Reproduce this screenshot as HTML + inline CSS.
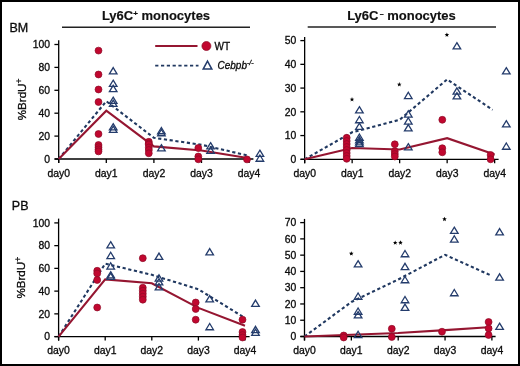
<!DOCTYPE html>
<html><head><meta charset="utf-8"><title>BrdU monocytes</title>
<style>
html,body{margin:0;padding:0;background:#fff;}
body{width:520px;height:366px;overflow:hidden;font-family:"Liberation Sans", sans-serif;}
#fig{position:relative;width:520px;height:366px;box-sizing:border-box;}
#fig svg{position:absolute;left:0;top:0;display:block;filter:blur(0.35px);}
#frame{position:absolute;left:0;top:0;width:520px;height:366px;box-sizing:border-box;border:2px solid #000;}
</style></head>
<body><div id="fig">
<svg width="520" height="366" viewBox="0 0 520 366" font-family='"Liberation Sans", sans-serif'>
<rect x="0" y="0" width="520" height="366" fill="#fff"/>
<text x="156" y="19.8" font-size="13" text-anchor="middle" font-weight="bold" font-style="normal" fill="#111" stroke="#000" stroke-width="0.15" >Ly6C<tspan font-size="8" dy="-4">+</tspan><tspan dy="4"> monocytes</tspan></text>
<line x1="62" y1="27.2" x2="250" y2="27.2" stroke="#222" stroke-width="1.5"/>
<text x="401.5" y="19.8" font-size="13" text-anchor="middle" font-weight="bold" font-style="normal" fill="#111" stroke="#000" stroke-width="0.15" >Ly6C<tspan font-size="7" dx="1.2" dy="-4.2">&#8211;</tspan><tspan dy="4.2"> monocytes</tspan></text>
<line x1="307.7" y1="27" x2="496" y2="27" stroke="#222" stroke-width="1.5"/>
<text x="9.4" y="31.6" font-size="12.5" text-anchor="start" font-weight="normal" font-style="normal" fill="#111" stroke="#000" stroke-width="0.3" >BM</text>
<text x="11.8" y="210.2" font-size="12.5" text-anchor="start" font-weight="normal" font-style="normal" fill="#111" stroke="#000" stroke-width="0.3" >PB</text>
<text x="26.3" y="99.7" font-size="11.6" text-anchor="middle" font-weight="normal" font-style="normal" fill="#111" stroke="#000" stroke-width="0.3" transform="rotate(-90 26 99.7)">%BrdU<tspan font-size="8.5" dy="-4.2">+</tspan></text>
<text x="25.3" y="278" font-size="11.6" text-anchor="middle" font-weight="normal" font-style="normal" fill="#111" stroke="#000" stroke-width="0.3" transform="rotate(-90 25 278)">%BrdU<tspan font-size="8.5" dy="-4.2">+</tspan></text>
<line x1="58.7" y1="40.2" x2="58.7" y2="163" stroke="#000" stroke-width="1.3"/>
<line x1="54.7" y1="159" x2="253.4" y2="159" stroke="#000" stroke-width="1.3"/>
<line x1="54.4" y1="159" x2="58.7" y2="159" stroke="#000" stroke-width="1.3"/>
<text x="50" y="162.8" font-size="10.4" text-anchor="end" font-weight="normal" font-style="normal" fill="#111" stroke="#000" stroke-width="0.3" >0</text>
<line x1="54.4" y1="136.1" x2="58.7" y2="136.1" stroke="#000" stroke-width="1.3"/>
<text x="50" y="139.9" font-size="10.4" text-anchor="end" font-weight="normal" font-style="normal" fill="#111" stroke="#000" stroke-width="0.3" >20</text>
<line x1="54.4" y1="113.2" x2="58.7" y2="113.2" stroke="#000" stroke-width="1.3"/>
<text x="50" y="117" font-size="10.4" text-anchor="end" font-weight="normal" font-style="normal" fill="#111" stroke="#000" stroke-width="0.3" >40</text>
<line x1="54.4" y1="90.3" x2="58.7" y2="90.3" stroke="#000" stroke-width="1.3"/>
<text x="50" y="94.1" font-size="10.4" text-anchor="end" font-weight="normal" font-style="normal" fill="#111" stroke="#000" stroke-width="0.3" >60</text>
<line x1="54.4" y1="67.4" x2="58.7" y2="67.4" stroke="#000" stroke-width="1.3"/>
<text x="50" y="71.2" font-size="10.4" text-anchor="end" font-weight="normal" font-style="normal" fill="#111" stroke="#000" stroke-width="0.3" >80</text>
<line x1="54.4" y1="44.5" x2="58.7" y2="44.5" stroke="#000" stroke-width="1.3"/>
<text x="50" y="48.3" font-size="10.4" text-anchor="end" font-weight="normal" font-style="normal" fill="#111" stroke="#000" stroke-width="0.3" >100</text>
<line x1="58.7" y1="159" x2="58.7" y2="163" stroke="#000" stroke-width="1.3"/>
<text x="58.7" y="176.8" font-size="10.4" text-anchor="middle" font-weight="normal" font-style="normal" fill="#111" stroke="#000" stroke-width="0.3" >day0</text>
<line x1="106.3" y1="159" x2="106.3" y2="163" stroke="#000" stroke-width="1.3"/>
<text x="106.3" y="176.8" font-size="10.4" text-anchor="middle" font-weight="normal" font-style="normal" fill="#111" stroke="#000" stroke-width="0.3" >day1</text>
<line x1="153.9" y1="159" x2="153.9" y2="163" stroke="#000" stroke-width="1.3"/>
<text x="153.9" y="176.8" font-size="10.4" text-anchor="middle" font-weight="normal" font-style="normal" fill="#111" stroke="#000" stroke-width="0.3" >day2</text>
<line x1="201.5" y1="159" x2="201.5" y2="163" stroke="#000" stroke-width="1.3"/>
<text x="201.5" y="176.8" font-size="10.4" text-anchor="middle" font-weight="normal" font-style="normal" fill="#111" stroke="#000" stroke-width="0.3" >day3</text>
<line x1="249.1" y1="159" x2="249.1" y2="163" stroke="#000" stroke-width="1.3"/>
<text x="249.1" y="176.8" font-size="10.4" text-anchor="middle" font-weight="normal" font-style="normal" fill="#111" stroke="#000" stroke-width="0.3" >day4</text>
<polyline points="58.7,159 106.3,101.2 153.9,137.8 201.5,144.8 249.1,155.8" fill="none" stroke="#203860" stroke-width="2.1" stroke-dasharray="3.2 2.6" stroke-linejoin="miter"/>
<polyline points="58.7,159 106.3,110.7 153.9,146.4 201.5,150.5 249.1,158.3" fill="none" stroke="#951631" stroke-width="2.1" stroke-linejoin="miter"/>
<circle cx="98.5" cy="50.6" r="3.45" fill="#c1072f" stroke="#8c0b26" stroke-width="0.7"/>
<circle cx="98.5" cy="74.5" r="3.45" fill="#c1072f" stroke="#8c0b26" stroke-width="0.7"/>
<circle cx="98.5" cy="89.5" r="3.45" fill="#c1072f" stroke="#8c0b26" stroke-width="0.7"/>
<circle cx="98.5" cy="102" r="3.45" fill="#c1072f" stroke="#8c0b26" stroke-width="0.7"/>
<circle cx="98.5" cy="134" r="3.45" fill="#c1072f" stroke="#8c0b26" stroke-width="0.7"/>
<circle cx="98.5" cy="145" r="3.45" fill="#c1072f" stroke="#8c0b26" stroke-width="0.7"/>
<circle cx="98.5" cy="147.2" r="3.45" fill="#c1072f" stroke="#8c0b26" stroke-width="0.7"/>
<circle cx="98.5" cy="149.4" r="3.45" fill="#c1072f" stroke="#8c0b26" stroke-width="0.7"/>
<circle cx="98.5" cy="151.4" r="3.45" fill="#c1072f" stroke="#8c0b26" stroke-width="0.7"/>
<circle cx="148.8" cy="141.8" r="3.45" fill="#c1072f" stroke="#8c0b26" stroke-width="0.7"/>
<circle cx="148.8" cy="143.5" r="3.45" fill="#c1072f" stroke="#8c0b26" stroke-width="0.7"/>
<circle cx="148.8" cy="144.5" r="3.45" fill="#c1072f" stroke="#8c0b26" stroke-width="0.7"/>
<circle cx="148.8" cy="147.5" r="3.45" fill="#c1072f" stroke="#8c0b26" stroke-width="0.7"/>
<circle cx="148.8" cy="150" r="3.45" fill="#c1072f" stroke="#8c0b26" stroke-width="0.7"/>
<circle cx="148.8" cy="153.3" r="3.45" fill="#c1072f" stroke="#8c0b26" stroke-width="0.7"/>
<circle cx="198.3" cy="148" r="3.45" fill="#c1072f" stroke="#8c0b26" stroke-width="0.7"/>
<circle cx="198.3" cy="156.5" r="3.45" fill="#c1072f" stroke="#8c0b26" stroke-width="0.7"/>
<circle cx="198.3" cy="159.3" r="3.45" fill="#c1072f" stroke="#8c0b26" stroke-width="0.7"/>
<circle cx="247" cy="159.4" r="3.45" fill="#c1072f" stroke="#8c0b26" stroke-width="0.7"/>
<path d="M113.2,67.57L117,73.85L109.41,73.85Z" fill="none" stroke="#243c6c" stroke-width="1.3" stroke-linejoin="miter"/>
<path d="M113.2,80.17L117,86.45L109.41,86.45Z" fill="none" stroke="#243c6c" stroke-width="1.3" stroke-linejoin="miter"/>
<path d="M113.2,85.37L117,91.65L109.41,91.65Z" fill="none" stroke="#243c6c" stroke-width="1.3" stroke-linejoin="miter"/>
<path d="M113.2,97.17L117,103.45L109.41,103.45Z" fill="none" stroke="#243c6c" stroke-width="1.3" stroke-linejoin="miter"/>
<path d="M113.2,100.17L117,106.45L109.41,106.45Z" fill="none" stroke="#243c6c" stroke-width="1.3" stroke-linejoin="miter"/>
<path d="M113.2,123.67L117,129.95L109.41,129.95Z" fill="none" stroke="#243c6c" stroke-width="1.3" stroke-linejoin="miter"/>
<path d="M113.2,126.17L117,132.45L109.41,132.45Z" fill="none" stroke="#243c6c" stroke-width="1.3" stroke-linejoin="miter"/>
<path d="M161.4,127.47L165.19,133.75L157.61,133.75Z" fill="none" stroke="#243c6c" stroke-width="1.3" stroke-linejoin="miter"/>
<path d="M161.4,129.47L165.19,135.75L157.61,135.75Z" fill="none" stroke="#243c6c" stroke-width="1.3" stroke-linejoin="miter"/>
<path d="M161.4,144.67L165.19,150.95L157.61,150.95Z" fill="none" stroke="#243c6c" stroke-width="1.3" stroke-linejoin="miter"/>
<path d="M210.6,142.67L214.39,148.95L206.81,148.95Z" fill="none" stroke="#243c6c" stroke-width="1.3" stroke-linejoin="miter"/>
<path d="M210.6,147.17L214.39,153.45L206.81,153.45Z" fill="none" stroke="#243c6c" stroke-width="1.3" stroke-linejoin="miter"/>
<path d="M259.9,150.17L263.69,156.45L256.1,156.45Z" fill="none" stroke="#243c6c" stroke-width="1.3" stroke-linejoin="miter"/>
<path d="M259.9,154.97L263.69,161.25L256.1,161.25Z" fill="none" stroke="#243c6c" stroke-width="1.3" stroke-linejoin="miter"/>
<line x1="155.2" y1="46" x2="197.5" y2="46" stroke="#951631" stroke-width="1.9"/>
<circle cx="206.4" cy="46" r="4.5" fill="#c1072f" stroke="#8c0b26" stroke-width="0.7"/>
<text x="214.5" y="50" font-size="10" text-anchor="start" font-weight="normal" font-style="normal" fill="#111" stroke="#000" stroke-width="0.3" >WT</text>
<line x1="155.2" y1="65.6" x2="198.5" y2="65.6" stroke="#203860" stroke-width="1.8" stroke-dasharray="3.2 2.6"/>
<path d="M207.5,61.15L211.82,69.05L203.18,69.05Z" fill="none" stroke="#243c6c" stroke-width="1.5" stroke-linejoin="miter"/>
<text x="217.5" y="68.5" font-size="10" text-anchor="start" font-weight="normal" font-style="italic" fill="#111" stroke="#000" stroke-width="0.3" >Cebpb<tspan font-size="7" dy="-4">-/-</tspan></text>
<line x1="304.65" y1="37" x2="304.65" y2="163.3" stroke="#000" stroke-width="1.3"/>
<line x1="300.65" y1="159.3" x2="498.6" y2="159.3" stroke="#000" stroke-width="1.3"/>
<line x1="300.35" y1="159.3" x2="304.65" y2="159.3" stroke="#000" stroke-width="1.3"/>
<text x="296.3" y="163.1" font-size="10.4" text-anchor="end" font-weight="normal" font-style="normal" fill="#111" stroke="#000" stroke-width="0.3" >0</text>
<line x1="300.35" y1="135.56" x2="304.65" y2="135.56" stroke="#000" stroke-width="1.3"/>
<text x="296.3" y="139.36" font-size="10.4" text-anchor="end" font-weight="normal" font-style="normal" fill="#111" stroke="#000" stroke-width="0.3" >10</text>
<line x1="300.35" y1="111.82" x2="304.65" y2="111.82" stroke="#000" stroke-width="1.3"/>
<text x="296.3" y="115.62" font-size="10.4" text-anchor="end" font-weight="normal" font-style="normal" fill="#111" stroke="#000" stroke-width="0.3" >20</text>
<line x1="300.35" y1="88.08" x2="304.65" y2="88.08" stroke="#000" stroke-width="1.3"/>
<text x="296.3" y="91.88" font-size="10.4" text-anchor="end" font-weight="normal" font-style="normal" fill="#111" stroke="#000" stroke-width="0.3" >30</text>
<line x1="300.35" y1="64.34" x2="304.65" y2="64.34" stroke="#000" stroke-width="1.3"/>
<text x="296.3" y="68.14" font-size="10.4" text-anchor="end" font-weight="normal" font-style="normal" fill="#111" stroke="#000" stroke-width="0.3" >40</text>
<line x1="300.35" y1="40.6" x2="304.65" y2="40.6" stroke="#000" stroke-width="1.3"/>
<text x="296.3" y="44.4" font-size="10.4" text-anchor="end" font-weight="normal" font-style="normal" fill="#111" stroke="#000" stroke-width="0.3" >50</text>
<line x1="304.65" y1="159.3" x2="304.65" y2="163.3" stroke="#000" stroke-width="1.3"/>
<text x="304.65" y="177.1" font-size="10.4" text-anchor="middle" font-weight="normal" font-style="normal" fill="#111" stroke="#000" stroke-width="0.3" >day0</text>
<line x1="352.15" y1="159.3" x2="352.15" y2="163.3" stroke="#000" stroke-width="1.3"/>
<text x="352.15" y="177.1" font-size="10.4" text-anchor="middle" font-weight="normal" font-style="normal" fill="#111" stroke="#000" stroke-width="0.3" >day1</text>
<line x1="399.65" y1="159.3" x2="399.65" y2="163.3" stroke="#000" stroke-width="1.3"/>
<text x="399.65" y="177.1" font-size="10.4" text-anchor="middle" font-weight="normal" font-style="normal" fill="#111" stroke="#000" stroke-width="0.3" >day2</text>
<line x1="447.15" y1="159.3" x2="447.15" y2="163.3" stroke="#000" stroke-width="1.3"/>
<text x="447.15" y="177.1" font-size="10.4" text-anchor="middle" font-weight="normal" font-style="normal" fill="#111" stroke="#000" stroke-width="0.3" >day3</text>
<line x1="494.65" y1="159.3" x2="494.65" y2="163.3" stroke="#000" stroke-width="1.3"/>
<text x="494.65" y="177.1" font-size="10.4" text-anchor="middle" font-weight="normal" font-style="normal" fill="#111" stroke="#000" stroke-width="0.3" >day4</text>
<polyline points="304.65,159.3 352.15,132.3 399.65,119.8 447.15,79.4 492.6,109.9" fill="none" stroke="#203860" stroke-width="2.1" stroke-dasharray="3.2 2.6" stroke-linejoin="miter"/>
<polyline points="304.65,159.3 352.15,148 399.65,149.5 447.15,138.2 494.65,154.5" fill="none" stroke="#951631" stroke-width="2.1" stroke-linejoin="miter"/>
<circle cx="346.7" cy="137.8" r="3.45" fill="#c1072f" stroke="#8c0b26" stroke-width="0.7"/>
<circle cx="346.7" cy="141" r="3.45" fill="#c1072f" stroke="#8c0b26" stroke-width="0.7"/>
<circle cx="346.7" cy="144" r="3.45" fill="#c1072f" stroke="#8c0b26" stroke-width="0.7"/>
<circle cx="346.7" cy="147" r="3.45" fill="#c1072f" stroke="#8c0b26" stroke-width="0.7"/>
<circle cx="346.7" cy="150" r="3.45" fill="#c1072f" stroke="#8c0b26" stroke-width="0.7"/>
<circle cx="346.7" cy="153" r="3.45" fill="#c1072f" stroke="#8c0b26" stroke-width="0.7"/>
<circle cx="346.7" cy="156" r="3.45" fill="#c1072f" stroke="#8c0b26" stroke-width="0.7"/>
<circle cx="346.7" cy="158.8" r="3.45" fill="#c1072f" stroke="#8c0b26" stroke-width="0.7"/>
<circle cx="394.8" cy="144.3" r="3.45" fill="#c1072f" stroke="#8c0b26" stroke-width="0.7"/>
<circle cx="394.8" cy="151.3" r="3.45" fill="#c1072f" stroke="#8c0b26" stroke-width="0.7"/>
<circle cx="394.8" cy="154" r="3.45" fill="#c1072f" stroke="#8c0b26" stroke-width="0.7"/>
<circle cx="394.8" cy="156.5" r="3.45" fill="#c1072f" stroke="#8c0b26" stroke-width="0.7"/>
<circle cx="442.3" cy="119.8" r="3.45" fill="#c1072f" stroke="#8c0b26" stroke-width="0.7"/>
<circle cx="442.3" cy="148.2" r="3.45" fill="#c1072f" stroke="#8c0b26" stroke-width="0.7"/>
<circle cx="442.3" cy="152.3" r="3.45" fill="#c1072f" stroke="#8c0b26" stroke-width="0.7"/>
<circle cx="490.6" cy="155" r="3.45" fill="#c1072f" stroke="#8c0b26" stroke-width="0.7"/>
<circle cx="490.6" cy="159.3" r="3.45" fill="#c1072f" stroke="#8c0b26" stroke-width="0.7"/>
<path d="M359.4,106.67L363.19,112.95L355.6,112.95Z" fill="none" stroke="#243c6c" stroke-width="1.3" stroke-linejoin="miter"/>
<path d="M359.4,116.47L363.19,122.75L355.6,122.75Z" fill="none" stroke="#243c6c" stroke-width="1.3" stroke-linejoin="miter"/>
<path d="M359.4,123.17L363.19,129.45L355.6,129.45Z" fill="none" stroke="#243c6c" stroke-width="1.3" stroke-linejoin="miter"/>
<path d="M359.4,133.97L363.19,140.25L355.6,140.25Z" fill="none" stroke="#243c6c" stroke-width="1.3" stroke-linejoin="miter"/>
<path d="M359.4,136.47L363.19,142.75L355.6,142.75Z" fill="none" stroke="#243c6c" stroke-width="1.3" stroke-linejoin="miter"/>
<path d="M359.4,138.67L363.19,144.95L355.6,144.95Z" fill="none" stroke="#243c6c" stroke-width="1.3" stroke-linejoin="miter"/>
<path d="M359.4,140.37L363.19,146.65L355.6,146.65Z" fill="none" stroke="#243c6c" stroke-width="1.3" stroke-linejoin="miter"/>
<path d="M408.3,92.27L412.1,98.55L404.5,98.55Z" fill="none" stroke="#243c6c" stroke-width="1.3" stroke-linejoin="miter"/>
<path d="M408.3,110.77L412.1,117.05L404.5,117.05Z" fill="none" stroke="#243c6c" stroke-width="1.3" stroke-linejoin="miter"/>
<path d="M408.3,117.77L412.1,124.05L404.5,124.05Z" fill="none" stroke="#243c6c" stroke-width="1.3" stroke-linejoin="miter"/>
<path d="M408.3,124.57L412.1,130.85L404.5,130.85Z" fill="none" stroke="#243c6c" stroke-width="1.3" stroke-linejoin="miter"/>
<path d="M408.3,143.67L412.1,149.95L404.5,149.95Z" fill="none" stroke="#243c6c" stroke-width="1.3" stroke-linejoin="miter"/>
<path d="M456.9,42.67L460.69,48.95L453.1,48.95Z" fill="none" stroke="#243c6c" stroke-width="1.3" stroke-linejoin="miter"/>
<path d="M456.9,87.87L460.69,94.15L453.1,94.15Z" fill="none" stroke="#243c6c" stroke-width="1.3" stroke-linejoin="miter"/>
<path d="M456.9,92.67L460.69,98.95L453.1,98.95Z" fill="none" stroke="#243c6c" stroke-width="1.3" stroke-linejoin="miter"/>
<path d="M506.3,67.67L510.1,73.95L502.5,73.95Z" fill="none" stroke="#243c6c" stroke-width="1.3" stroke-linejoin="miter"/>
<path d="M506.3,120.67L510.1,126.95L502.5,126.95Z" fill="none" stroke="#243c6c" stroke-width="1.3" stroke-linejoin="miter"/>
<path d="M506.3,142.97L510.1,149.25L502.5,149.25Z" fill="none" stroke="#243c6c" stroke-width="1.3" stroke-linejoin="miter"/>
<polygon points="352,97.1 352.62,98.65 354.28,98.76 353,99.82 353.41,101.44 352,100.55 350.59,101.44 351,99.82 349.72,98.76 351.38,98.65" fill="#000"/>
<polygon points="399.3,82.1 399.92,83.65 401.58,83.76 400.3,84.82 400.71,86.44 399.3,85.55 397.89,86.44 398.3,84.82 397.02,83.76 398.68,83.65" fill="#000"/>
<polygon points="446.9,32.5 447.52,34.05 449.18,34.16 447.9,35.22 448.31,36.84 446.9,35.95 445.49,36.84 445.9,35.22 444.62,34.16 446.28,34.05" fill="#000"/>
<line x1="58.6" y1="218.6" x2="58.6" y2="340.6" stroke="#000" stroke-width="1.3"/>
<line x1="54.6" y1="336.6" x2="249.6" y2="336.6" stroke="#000" stroke-width="1.3"/>
<line x1="54.3" y1="336.6" x2="58.6" y2="336.6" stroke="#000" stroke-width="1.3"/>
<text x="50" y="340.4" font-size="10.4" text-anchor="end" font-weight="normal" font-style="normal" fill="#111" stroke="#000" stroke-width="0.3" >0</text>
<line x1="54.3" y1="313.86" x2="58.6" y2="313.86" stroke="#000" stroke-width="1.3"/>
<text x="50" y="317.66" font-size="10.4" text-anchor="end" font-weight="normal" font-style="normal" fill="#111" stroke="#000" stroke-width="0.3" >20</text>
<line x1="54.3" y1="291.12" x2="58.6" y2="291.12" stroke="#000" stroke-width="1.3"/>
<text x="50" y="294.92" font-size="10.4" text-anchor="end" font-weight="normal" font-style="normal" fill="#111" stroke="#000" stroke-width="0.3" >40</text>
<line x1="54.3" y1="268.38" x2="58.6" y2="268.38" stroke="#000" stroke-width="1.3"/>
<text x="50" y="272.18" font-size="10.4" text-anchor="end" font-weight="normal" font-style="normal" fill="#111" stroke="#000" stroke-width="0.3" >60</text>
<line x1="54.3" y1="245.64" x2="58.6" y2="245.64" stroke="#000" stroke-width="1.3"/>
<text x="50" y="249.44" font-size="10.4" text-anchor="end" font-weight="normal" font-style="normal" fill="#111" stroke="#000" stroke-width="0.3" >80</text>
<line x1="54.3" y1="222.9" x2="58.6" y2="222.9" stroke="#000" stroke-width="1.3"/>
<text x="50" y="226.7" font-size="10.4" text-anchor="end" font-weight="normal" font-style="normal" fill="#111" stroke="#000" stroke-width="0.3" >100</text>
<line x1="58.6" y1="336.6" x2="58.6" y2="340.6" stroke="#000" stroke-width="1.3"/>
<text x="58.6" y="354.4" font-size="10.4" text-anchor="middle" font-weight="normal" font-style="normal" fill="#111" stroke="#000" stroke-width="0.3" >day0</text>
<line x1="105.2" y1="336.6" x2="105.2" y2="340.6" stroke="#000" stroke-width="1.3"/>
<text x="105.2" y="354.4" font-size="10.4" text-anchor="middle" font-weight="normal" font-style="normal" fill="#111" stroke="#000" stroke-width="0.3" >day1</text>
<line x1="151.8" y1="336.6" x2="151.8" y2="340.6" stroke="#000" stroke-width="1.3"/>
<text x="151.8" y="354.4" font-size="10.4" text-anchor="middle" font-weight="normal" font-style="normal" fill="#111" stroke="#000" stroke-width="0.3" >day2</text>
<line x1="198.4" y1="336.6" x2="198.4" y2="340.6" stroke="#000" stroke-width="1.3"/>
<text x="198.4" y="354.4" font-size="10.4" text-anchor="middle" font-weight="normal" font-style="normal" fill="#111" stroke="#000" stroke-width="0.3" >day3</text>
<line x1="245" y1="336.6" x2="245" y2="340.6" stroke="#000" stroke-width="1.3"/>
<text x="245" y="354.4" font-size="10.4" text-anchor="middle" font-weight="normal" font-style="normal" fill="#111" stroke="#000" stroke-width="0.3" >day4</text>
<polyline points="58.6,336.6 105.2,263.7 151.8,274.8 198.4,289.3 245,318" fill="none" stroke="#203860" stroke-width="2.1" stroke-dasharray="3.2 2.6" stroke-linejoin="miter"/>
<polyline points="58.6,336.6 105.2,279.4 151.8,283.2 198.4,307.9 245,325.8" fill="none" stroke="#951631" stroke-width="2.1" stroke-linejoin="miter"/>
<circle cx="97.2" cy="270.8" r="3.45" fill="#c1072f" stroke="#8c0b26" stroke-width="0.7"/>
<circle cx="97.2" cy="273.5" r="3.45" fill="#c1072f" stroke="#8c0b26" stroke-width="0.7"/>
<circle cx="97.2" cy="280" r="3.45" fill="#c1072f" stroke="#8c0b26" stroke-width="0.7"/>
<circle cx="97.2" cy="307.5" r="3.45" fill="#c1072f" stroke="#8c0b26" stroke-width="0.7"/>
<circle cx="142.8" cy="258.2" r="3.45" fill="#c1072f" stroke="#8c0b26" stroke-width="0.7"/>
<circle cx="142.8" cy="287.7" r="3.45" fill="#c1072f" stroke="#8c0b26" stroke-width="0.7"/>
<circle cx="142.8" cy="290.7" r="3.45" fill="#c1072f" stroke="#8c0b26" stroke-width="0.7"/>
<circle cx="142.8" cy="293.7" r="3.45" fill="#c1072f" stroke="#8c0b26" stroke-width="0.7"/>
<circle cx="142.8" cy="296.7" r="3.45" fill="#c1072f" stroke="#8c0b26" stroke-width="0.7"/>
<circle cx="142.8" cy="299.7" r="3.45" fill="#c1072f" stroke="#8c0b26" stroke-width="0.7"/>
<circle cx="195.7" cy="302.5" r="3.45" fill="#c1072f" stroke="#8c0b26" stroke-width="0.7"/>
<circle cx="195.7" cy="309" r="3.45" fill="#c1072f" stroke="#8c0b26" stroke-width="0.7"/>
<circle cx="195.7" cy="319.7" r="3.45" fill="#c1072f" stroke="#8c0b26" stroke-width="0.7"/>
<circle cx="242.5" cy="319.7" r="3.45" fill="#c1072f" stroke="#8c0b26" stroke-width="0.7"/>
<circle cx="242.5" cy="332" r="3.45" fill="#c1072f" stroke="#8c0b26" stroke-width="0.7"/>
<circle cx="242.5" cy="335" r="3.45" fill="#c1072f" stroke="#8c0b26" stroke-width="0.7"/>
<circle cx="242.5" cy="337.5" r="3.45" fill="#c1072f" stroke="#8c0b26" stroke-width="0.7"/>
<path d="M110.7,241.67L114.5,247.95L106.91,247.95Z" fill="none" stroke="#243c6c" stroke-width="1.3" stroke-linejoin="miter"/>
<path d="M110.7,252.27L114.5,258.55L106.91,258.55Z" fill="none" stroke="#243c6c" stroke-width="1.3" stroke-linejoin="miter"/>
<path d="M110.7,262.77L114.5,269.05L106.91,269.05Z" fill="none" stroke="#243c6c" stroke-width="1.3" stroke-linejoin="miter"/>
<path d="M110.7,271.67L114.5,277.95L106.91,277.95Z" fill="none" stroke="#243c6c" stroke-width="1.3" stroke-linejoin="miter"/>
<path d="M110.7,273.17L114.5,279.45L106.91,279.45Z" fill="none" stroke="#243c6c" stroke-width="1.3" stroke-linejoin="miter"/>
<path d="M159,253.07L162.79,259.35L155.21,259.35Z" fill="none" stroke="#243c6c" stroke-width="1.3" stroke-linejoin="miter"/>
<path d="M159,274.77L162.79,281.05L155.21,281.05Z" fill="none" stroke="#243c6c" stroke-width="1.3" stroke-linejoin="miter"/>
<path d="M159,278.67L162.79,284.95L155.21,284.95Z" fill="none" stroke="#243c6c" stroke-width="1.3" stroke-linejoin="miter"/>
<path d="M159,283.57L162.79,289.85L155.21,289.85Z" fill="none" stroke="#243c6c" stroke-width="1.3" stroke-linejoin="miter"/>
<path d="M209.7,248.57L213.49,254.85L205.91,254.85Z" fill="none" stroke="#243c6c" stroke-width="1.3" stroke-linejoin="miter"/>
<path d="M209.7,295.57L213.49,301.85L205.91,301.85Z" fill="none" stroke="#243c6c" stroke-width="1.3" stroke-linejoin="miter"/>
<path d="M209.7,323.47L213.49,329.75L205.91,329.75Z" fill="none" stroke="#243c6c" stroke-width="1.3" stroke-linejoin="miter"/>
<path d="M255.5,300.07L259.3,306.35L251.71,306.35Z" fill="none" stroke="#243c6c" stroke-width="1.3" stroke-linejoin="miter"/>
<path d="M255.5,326.37L259.3,332.65L251.71,332.65Z" fill="none" stroke="#243c6c" stroke-width="1.3" stroke-linejoin="miter"/>
<path d="M255.5,329.17L259.3,335.45L251.71,335.45Z" fill="none" stroke="#243c6c" stroke-width="1.3" stroke-linejoin="miter"/>
<line x1="304.5" y1="218.9" x2="304.5" y2="340.5" stroke="#000" stroke-width="1.3"/>
<line x1="300.5" y1="336.5" x2="495.6" y2="336.5" stroke="#000" stroke-width="1.3"/>
<line x1="300.2" y1="336.5" x2="304.5" y2="336.5" stroke="#000" stroke-width="1.3"/>
<text x="296.3" y="340.3" font-size="10.4" text-anchor="end" font-weight="normal" font-style="normal" fill="#111" stroke="#000" stroke-width="0.3" >0</text>
<line x1="300.2" y1="320.23" x2="304.5" y2="320.23" stroke="#000" stroke-width="1.3"/>
<text x="296.3" y="324.03" font-size="10.4" text-anchor="end" font-weight="normal" font-style="normal" fill="#111" stroke="#000" stroke-width="0.3" >10</text>
<line x1="300.2" y1="303.96" x2="304.5" y2="303.96" stroke="#000" stroke-width="1.3"/>
<text x="296.3" y="307.76" font-size="10.4" text-anchor="end" font-weight="normal" font-style="normal" fill="#111" stroke="#000" stroke-width="0.3" >20</text>
<line x1="300.2" y1="287.69" x2="304.5" y2="287.69" stroke="#000" stroke-width="1.3"/>
<text x="296.3" y="291.49" font-size="10.4" text-anchor="end" font-weight="normal" font-style="normal" fill="#111" stroke="#000" stroke-width="0.3" >30</text>
<line x1="300.2" y1="271.42" x2="304.5" y2="271.42" stroke="#000" stroke-width="1.3"/>
<text x="296.3" y="275.22" font-size="10.4" text-anchor="end" font-weight="normal" font-style="normal" fill="#111" stroke="#000" stroke-width="0.3" >40</text>
<line x1="300.2" y1="255.15" x2="304.5" y2="255.15" stroke="#000" stroke-width="1.3"/>
<text x="296.3" y="258.95" font-size="10.4" text-anchor="end" font-weight="normal" font-style="normal" fill="#111" stroke="#000" stroke-width="0.3" >50</text>
<line x1="300.2" y1="238.88" x2="304.5" y2="238.88" stroke="#000" stroke-width="1.3"/>
<text x="296.3" y="242.68" font-size="10.4" text-anchor="end" font-weight="normal" font-style="normal" fill="#111" stroke="#000" stroke-width="0.3" >60</text>
<line x1="300.2" y1="222.61" x2="304.5" y2="222.61" stroke="#000" stroke-width="1.3"/>
<text x="296.3" y="226.41" font-size="10.4" text-anchor="end" font-weight="normal" font-style="normal" fill="#111" stroke="#000" stroke-width="0.3" >70</text>
<line x1="304.5" y1="336.5" x2="304.5" y2="340.5" stroke="#000" stroke-width="1.3"/>
<text x="304.5" y="354.3" font-size="10.4" text-anchor="middle" font-weight="normal" font-style="normal" fill="#111" stroke="#000" stroke-width="0.3" >day0</text>
<line x1="351.35" y1="336.5" x2="351.35" y2="340.5" stroke="#000" stroke-width="1.3"/>
<text x="351.35" y="354.3" font-size="10.4" text-anchor="middle" font-weight="normal" font-style="normal" fill="#111" stroke="#000" stroke-width="0.3" >day1</text>
<line x1="398.2" y1="336.5" x2="398.2" y2="340.5" stroke="#000" stroke-width="1.3"/>
<text x="398.2" y="354.3" font-size="10.4" text-anchor="middle" font-weight="normal" font-style="normal" fill="#111" stroke="#000" stroke-width="0.3" >day2</text>
<line x1="445.05" y1="336.5" x2="445.05" y2="340.5" stroke="#000" stroke-width="1.3"/>
<text x="445.05" y="354.3" font-size="10.4" text-anchor="middle" font-weight="normal" font-style="normal" fill="#111" stroke="#000" stroke-width="0.3" >day3</text>
<line x1="491.9" y1="336.5" x2="491.9" y2="340.5" stroke="#000" stroke-width="1.3"/>
<text x="491.9" y="354.3" font-size="10.4" text-anchor="middle" font-weight="normal" font-style="normal" fill="#111" stroke="#000" stroke-width="0.3" >day4</text>
<polyline points="304.5,336.5 351.35,302 398.2,279.5 445.05,254.8 491.9,275.9" fill="none" stroke="#203860" stroke-width="2.1" stroke-dasharray="3.2 2.6" stroke-linejoin="miter"/>
<polyline points="304.5,336.5 351.35,334.8 398.2,333 445.05,330.1 491.9,327" fill="none" stroke="#951631" stroke-width="2.1" stroke-linejoin="miter"/>
<circle cx="343.7" cy="335.5" r="3.45" fill="#c1072f" stroke="#8c0b26" stroke-width="0.7"/>
<circle cx="343.7" cy="337.5" r="3.45" fill="#c1072f" stroke="#8c0b26" stroke-width="0.7"/>
<circle cx="391.8" cy="328.8" r="3.45" fill="#c1072f" stroke="#8c0b26" stroke-width="0.7"/>
<circle cx="391.8" cy="337" r="3.45" fill="#c1072f" stroke="#8c0b26" stroke-width="0.7"/>
<circle cx="442" cy="331.7" r="3.45" fill="#c1072f" stroke="#8c0b26" stroke-width="0.7"/>
<circle cx="488.6" cy="322" r="3.45" fill="#c1072f" stroke="#8c0b26" stroke-width="0.7"/>
<circle cx="488.6" cy="328.5" r="3.45" fill="#c1072f" stroke="#8c0b26" stroke-width="0.7"/>
<circle cx="488.6" cy="335" r="3.45" fill="#c1072f" stroke="#8c0b26" stroke-width="0.7"/>
<path d="M358.1,260.67L361.9,266.95L354.31,266.95Z" fill="none" stroke="#243c6c" stroke-width="1.3" stroke-linejoin="miter"/>
<path d="M358.1,292.97L361.9,299.25L354.31,299.25Z" fill="none" stroke="#243c6c" stroke-width="1.3" stroke-linejoin="miter"/>
<path d="M358.1,307.97L361.9,314.25L354.31,314.25Z" fill="none" stroke="#243c6c" stroke-width="1.3" stroke-linejoin="miter"/>
<path d="M358.1,311.67L361.9,317.95L354.31,317.95Z" fill="none" stroke="#243c6c" stroke-width="1.3" stroke-linejoin="miter"/>
<path d="M358.1,331.27L361.9,337.55L354.31,337.55Z" fill="none" stroke="#243c6c" stroke-width="1.3" stroke-linejoin="miter"/>
<path d="M405,250.47L408.8,256.75L401.2,256.75Z" fill="none" stroke="#243c6c" stroke-width="1.3" stroke-linejoin="miter"/>
<path d="M405,263.37L408.8,269.65L401.2,269.65Z" fill="none" stroke="#243c6c" stroke-width="1.3" stroke-linejoin="miter"/>
<path d="M405,276.47L408.8,282.75L401.2,282.75Z" fill="none" stroke="#243c6c" stroke-width="1.3" stroke-linejoin="miter"/>
<path d="M405,296.47L408.8,302.75L401.2,302.75Z" fill="none" stroke="#243c6c" stroke-width="1.3" stroke-linejoin="miter"/>
<path d="M405,304.07L408.8,310.35L401.2,310.35Z" fill="none" stroke="#243c6c" stroke-width="1.3" stroke-linejoin="miter"/>
<path d="M454.3,227.17L458.1,233.45L450.5,233.45Z" fill="none" stroke="#243c6c" stroke-width="1.3" stroke-linejoin="miter"/>
<path d="M454.3,235.77L458.1,242.05L450.5,242.05Z" fill="none" stroke="#243c6c" stroke-width="1.3" stroke-linejoin="miter"/>
<path d="M454.3,289.47L458.1,295.75L450.5,295.75Z" fill="none" stroke="#243c6c" stroke-width="1.3" stroke-linejoin="miter"/>
<path d="M499.6,228.57L503.4,234.85L495.81,234.85Z" fill="none" stroke="#243c6c" stroke-width="1.3" stroke-linejoin="miter"/>
<path d="M499.6,273.87L503.4,280.15L495.81,280.15Z" fill="none" stroke="#243c6c" stroke-width="1.3" stroke-linejoin="miter"/>
<path d="M499.6,323.17L503.4,329.45L495.81,329.45Z" fill="none" stroke="#243c6c" stroke-width="1.3" stroke-linejoin="miter"/>
<polygon points="351.3,251.2 351.92,252.75 353.58,252.86 352.3,253.92 352.71,255.54 351.3,254.65 349.89,255.54 350.3,253.92 349.02,252.86 350.68,252.75" fill="#000"/>
<polygon points="395.2,240.4 395.82,241.95 397.48,242.06 396.2,243.12 396.61,244.74 395.2,243.85 393.79,244.74 394.2,243.12 392.92,242.06 394.58,241.95" fill="#000"/>
<polygon points="400.5,240.3 401.12,241.85 402.78,241.96 401.5,243.02 401.91,244.64 400.5,243.75 399.09,244.64 399.5,243.02 398.22,241.96 399.88,241.85" fill="#000"/>
<polygon points="444.5,216.8 445.12,218.35 446.78,218.46 445.5,219.52 445.91,221.14 444.5,220.25 443.09,221.14 443.5,219.52 442.22,218.46 443.88,218.35" fill="#000"/>
</svg>
<div id="frame"></div>
</div></body></html>
